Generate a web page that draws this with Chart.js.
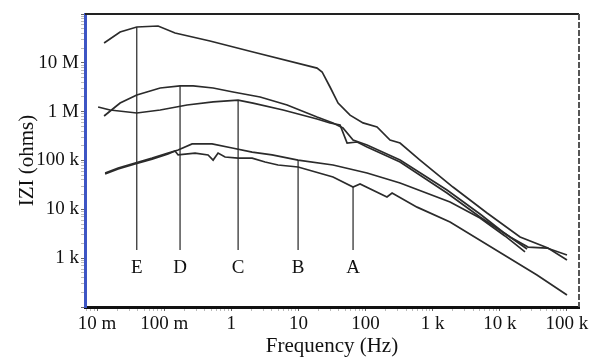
<!DOCTYPE html>
<html>
<head>
<meta charset="utf-8">
<script src="https://cdn.jsdelivr.net/npm/chart.js@4.4.0/dist/chart.umd.min.js"></script>
<style>
  html, body { margin: 0; padding: 0; background: #fff; }
</style>
</head>
<body>
<canvas id="impedance" width="596" height="359"></canvas>
<script>
// impedance magnitude |Z| (ohms) against frequency (Hz), one curve per sample
const freqE = [0.0127, 0.022, 0.039, 0.081, 0.145, 0.48, 2.1, 18.9, 22.5, 29.5, 38.9, 58.6, 91.5, 148, 231, 326, 646, 2000, 6440, 20000, 52000, 100000];
const zE    = [2.55e7, 4.28e7, 5.42e7, 5.68e7, 4.08e7, 2.8e7, 1.67e7, 7.8e6, 6.5e6, 3.2e6, 1.5e6, 8.5e5, 5.9e5, 4.85e5, 2.63e5, 2.28e5, 1.02e5, 2.86e4, 8400, 2710, 1610, 917];

const freqD = [0.0127, 0.022, 0.039, 0.087, 0.172, 0.27, 0.535, 1.06, 2.68, 6.77, 18.9, 32.7, 46, 65, 105, 326, 1630, 5060, 11100, 25400];
const zD    = [8.15e5, 1.5e6, 2.19e6, 3.05e6, 3.36e6, 3.36e6, 3.05e6, 2.53e6, 2.0e6, 1.37e6, 7.77e5, 5.86e5, 4.63e5, 2.63e5, 2.08e5, 1.02e5, 2.49e4, 8020, 3440, 1540];

const freqC = [0.01035, 0.0156, 0.039, 0.087, 0.219, 0.535, 1.26, 2.1, 5.9, 18.9, 29.5, 41.6, 53, 74.7, 105, 326, 1630, 5060, 14200, 26300, 50400, 100000];
const zC    = [1.245e6, 1.08e6, 9.4e5, 1.08e6, 1.37e6, 1.58e6, 1.73e6, 1.5e6, 1.08e6, 7.08e5, 5.86e5, 5.33e5, 2.28e5, 2.39e5, 1.89e5, 9.3e4, 2.16e4, 6970, 2710, 1690, 1610, 1160];

const freqB = [0.01315, 0.0206, 0.0368, 0.066, 0.114, 0.161, 0.26, 0.516, 1.03, 2.04, 4.04, 9.86, 32.7, 105, 326, 1810, 5060, 11900, 23700];
const zB    = [5.55e4, 7.02e4, 8.89e4, 1.12e5, 1.42e5, 1.64e5, 2.18e5, 2.18e5, 1.8e5, 1.49e5, 1.3e5, 1.02e5, 8.09e4, 5.55e4, 3.46e4, 1.41e4, 6640, 2850, 1340];

const freqA = [0.01315, 0.0206, 0.0368, 0.066, 0.114, 0.145, 0.161, 0.288, 0.45, 0.535, 0.634, 0.805, 1.26, 2.04, 3.18, 4.96, 9.86, 32.7, 65, 82.6, 208, 248, 584, 1810, 35700, 100000];
const zA    = [5.29e4, 6.7e4, 8.5e4, 1.07e5, 1.36e5, 1.56e5, 1.3e5, 1.42e5, 1.3e5, 1.02e5, 1.42e5, 1.18e5, 1.12e5, 1.12e5, 9.3e4, 8.09e4, 7.36e4, 4.59e4, 2.86e4, 3.3e4, 1.79e4, 2.16e4, 1.11e4, 5500, 452, 176];

// characteristic frequency markers
const markerNames = ['E', 'D', 'C', 'B', 'A'];
const markerFreq  = [0.039, 0.172, 1.26, 9.86, 65];
const markerTop   = [5.42e7, 3.36e6, 1.73e6, 1.02e5, 2.86e4];
const markerBottom = 1470;
const markerLabelZ = 640;

const xLabels = { '-2': '10 m', '-1': '100 m', '0': '1', '1': '10', '2': '100', '3': '1 k', '4': '10 k', '5': '100 k' };
const yLabels = { '3': '1 k', '4': '10 k', '5': '100 k', '6': '1 M', '7': '10 M' };

const serif = "'Liberation Serif', 'DejaVu Serif', serif";

function pts(fs, zs) {
  return fs.map((f, i) => ({ x: f, y: zs[i] }));
}

function logTicks(scale, lo, hi) {
  const ticks = [];
  for (let e = lo; e <= hi; e++) {
    for (let m = 1; m <= 9; m++) {
      const v = m * Math.pow(10, e);
      if (v >= scale.min && v <= scale.max) ticks.push({ value: v, major: m === 1 });
    }
  }
  scale.ticks = ticks;
}

function decade(v) {
  const l = Math.log10(v);
  return Math.abs(l - Math.round(l)) < 1e-6 ? String(Math.round(l)) : null;
}

const curveStyle = {
  borderColor: '#2b2b2b',
  borderWidth: 1.7,
  pointRadius: 0,
  tension: 0,
  fill: false
};

const datasets = [
  Object.assign({ label: 'E', data: pts(freqE, zE) }, curveStyle),
  Object.assign({ label: 'D', data: pts(freqD, zD) }, curveStyle),
  Object.assign({ label: 'C', data: pts(freqC, zC) }, curveStyle),
  Object.assign({ label: 'B', data: pts(freqB, zB) }, curveStyle),
  Object.assign({ label: 'A', data: pts(freqA, zA) }, curveStyle)
];

markerFreq.forEach((f, i) => {
  datasets.push({
    label: 'marker ' + markerNames[i],
    data: [{ x: f, y: markerTop[i] }, { x: f, y: markerBottom }],
    borderColor: '#111',
    borderWidth: 1.1,
    pointRadius: 0,
    fill: false
  });
});

// frame on top/right, letters under the marker lines
const framePlugin = {
  id: 'frame',
  afterDatasetsDraw(chart) {
    const { ctx, chartArea: a, scales } = chart;
    ctx.save();
    ctx.strokeStyle = '#222';
    ctx.lineWidth = 2;
    ctx.beginPath();
    ctx.moveTo(a.left, a.top);
    ctx.lineTo(a.right, a.top);
    ctx.stroke();
    ctx.strokeStyle = '#555';
    ctx.lineWidth = 2;
    ctx.setLineDash([6, 2]);
    ctx.beginPath();
    ctx.moveTo(a.right, a.top);
    ctx.lineTo(a.right, a.bottom);
    ctx.stroke();
    ctx.setLineDash([]);

    ctx.fillStyle = '#111';
    ctx.font = '19px ' + serif;
    ctx.textAlign = 'center';
    ctx.textBaseline = 'middle';
    markerNames.forEach((n, i) => {
      ctx.fillText(n, scales.x.getPixelForValue(markerFreq[i]), scales.y.getPixelForValue(markerLabelZ));
    });
    ctx.restore();
  }
};

new Chart(document.getElementById('impedance'), {
  type: 'line',
  data: { datasets: datasets },
  options: {
    responsive: false,
    animation: false,
    layout: { padding: { top: 14, right: 17, left: 0, bottom: 0 } },
    plugins: { legend: { display: false }, tooltip: { enabled: false } },
    scales: {
      x: {
        type: 'logarithmic',
        min: 0.0066,
        max: 151000,
        afterBuildTicks: s => logTicks(s, -3, 5),
        afterFit: s => { s.height = 52; },
        border: { color: '#111', width: 3 },
        grid: { drawOnChartArea: false, tickLength: 4, color: c => decade(c.tick.value) ? '#666' : '#bbb' },
        ticks: {
          autoSkip: false,
          maxRotation: 0,
          padding: 2,
          color: '#111',
          font: { family: serif, size: 19 },
          callback: v => { const d = decade(v); return d !== null && xLabels[d] ? xLabels[d] : ''; }
        },
        title: { display: true, text: 'Frequency (Hz)', color: '#111', font: { family: serif, size: 21 }, padding: { top: 0, bottom: 0 } }
      },
      y: {
        type: 'logarithmic',
        min: 100,
        max: 1e8,
        afterBuildTicks: s => logTicks(s, 2, 8),
        afterFit: s => { s.width = 85; },
        border: { color: '#3d55c4', width: 3 },
        grid: { drawOnChartArea: false, tickLength: 4, color: c => decade(c.tick.value) ? '#666' : '#bbb' },
        ticks: {
          autoSkip: false,
          padding: 2,
          color: '#111',
          font: { family: serif, size: 19 },
          callback: v => { const d = decade(v); return d !== null && yLabels[d] ? yLabels[d] : ''; }
        },
        title: { display: true, text: 'IZI (ohms)', color: '#111', font: { family: serif, size: 21 }, padding: { top: 15, bottom: 0 } }
      }
    }
  },
  plugins: [framePlugin]
});
</script>
</body>
</html>
